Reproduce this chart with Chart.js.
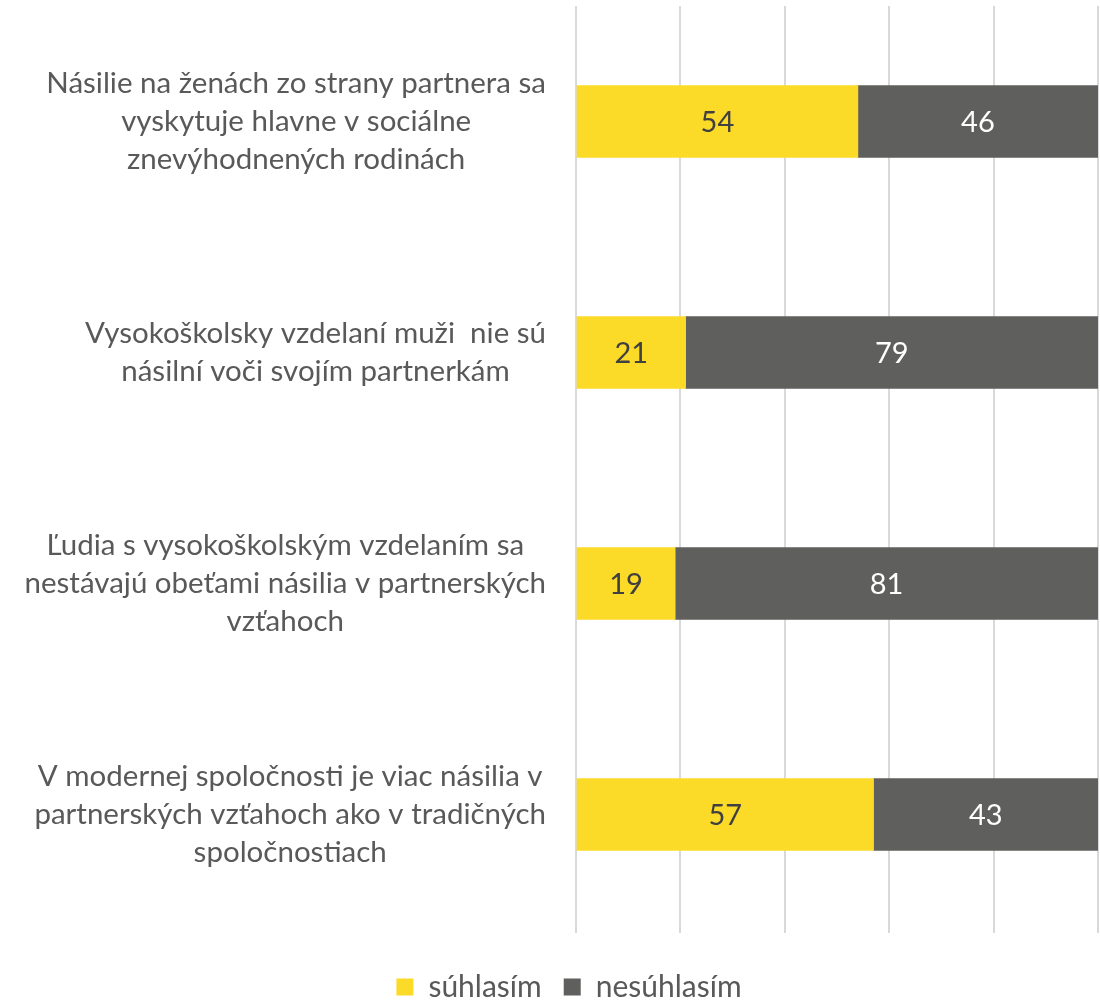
<!DOCTYPE html>
<html>
<head>
<meta charset="utf-8">
<script src="https://cdn.jsdelivr.net/npm/chart.js@4/dist/chart.umd.min.js"></script>
<style>
  html, body { margin: 0; padding: 0; background: #ffffff; }
  #wrap { width: 1100px; height: 1000px; }
</style>
</head>
<body>
<div id="wrap"><canvas id="c" width="1100" height="1000"></canvas></div>
<script>
const categories = [
  ["Násilie na ženách zo strany partnera sa", "vyskytuje hlavne v sociálne", "znevýhodnených rodinách"],
  ["Vysokoškolsky vzdelaní muži  nie sú", "násilní voči svojím partnerkám"],
  ["Ľudia s vysokoškolským vzdelaním sa", "nestávajú obeťami násilia v partnerských", "vzťahoch"],
  ["V modernej spoločnosti je viac násilia v", "partnerských vzťahoch ako v tradičných", "spoločnostiach"]
];
const seriesNames = ["súhlasím", "nesúhlasím"];
const agreeValues = [54, 21, 19, 57];
const disagreeValues = [46, 79, 81, 43];
const xTicks = [0, 20, 40, 60, 80, 100];

const FONT = "Lato, 'Open Sans', sans-serif";
const TEXT = "#595959";

const catLabelPlugin = {
  id: 'catLabels',
  afterDraw(chart) {
    const ctx = chart.ctx;
    const ys = chart.scales.y;
    ctx.save();
    ctx.font = "29.5px " + FONT;
    ctx.fillStyle = TEXT;
    ctx.textAlign = 'center';
    ctx.textBaseline = 'middle';
    const rightEdge = chart.chartArea.left - 30;
    const lineH = 38;
    categories.forEach((lines, i) => {
      const y = ys.getPixelForValue(i);
      let w = 0;
      lines.forEach(l => { w = Math.max(w, ctx.measureText(l).width); });
      const cx = rightEdge - w / 2;
      const y0 = y - (lines.length - 1) * lineH / 2;
      lines.forEach((l, k) => ctx.fillText(l, cx, y0 + k * lineH));
    });
    ctx.restore();
  }
};

const valueLabelPlugin = {
  id: 'valueLabels',
  afterDatasetsDraw(chart) {
    const ctx = chart.ctx;
    ctx.save();
    ctx.font = "29px " + FONT;
    ctx.textAlign = 'center';
    ctx.textBaseline = 'middle';
    chart.data.datasets.forEach((ds, di) => {
      const meta = chart.getDatasetMeta(di);
      meta.data.forEach((bar, i) => {
        ctx.fillStyle = di === 0 ? '#404040' : '#ffffff';
        ctx.fillText(String(ds.data[i]), (bar.x + bar.base) / 2, bar.y + 1);
      });
    });
    ctx.restore();
  }
};

new Chart(document.getElementById('c'), {
  type: 'bar',
  data: {
    labels: categories.map(c => c.join(' ')),
    datasets: [
      { label: seriesNames[0], data: agreeValues, backgroundColor: '#FCDA28', barThickness: 72, borderWidth: 0 },
      { label: seriesNames[1], data: disagreeValues, backgroundColor: '#5F5F5D', barThickness: 72, borderWidth: 0 }
    ]
  },
  options: {
    indexAxis: 'y',
    responsive: false,
    animation: false,
    maintainAspectRatio: false,
    layout: { padding: { left: 40, right: 2, top: 6, bottom: -12 } },
    scales: {
      x: {
        stacked: true,
        min: 0, max: 100,
        afterBuildTicks(scale) { scale.ticks = xTicks.map(v => ({ value: v })); },
        afterFit(scale) { scale.height = 20; },
        ticks: { display: false },
        grid: { color: '#D9D9D9', lineWidth: 2, drawTicks: true, tickLength: 3 },
        border: { display: false }
      },
      y: {
        stacked: true,
        afterFit(scale) { scale.width = 536; },
        ticks: { display: false },
        grid: { display: false },
        border: { display: false }
      }
    },
    plugins: {
      legend: {
        position: 'bottom',
        labels: {
          font: { family: FONT, size: 30 },
          color: TEXT,
          boxWidth: 17,
          boxHeight: 17,
          padding: 22
        }
      },
      tooltip: { enabled: false }
    }
  },
  plugins: [catLabelPlugin, valueLabelPlugin]
});
</script>
</body>
</html>
